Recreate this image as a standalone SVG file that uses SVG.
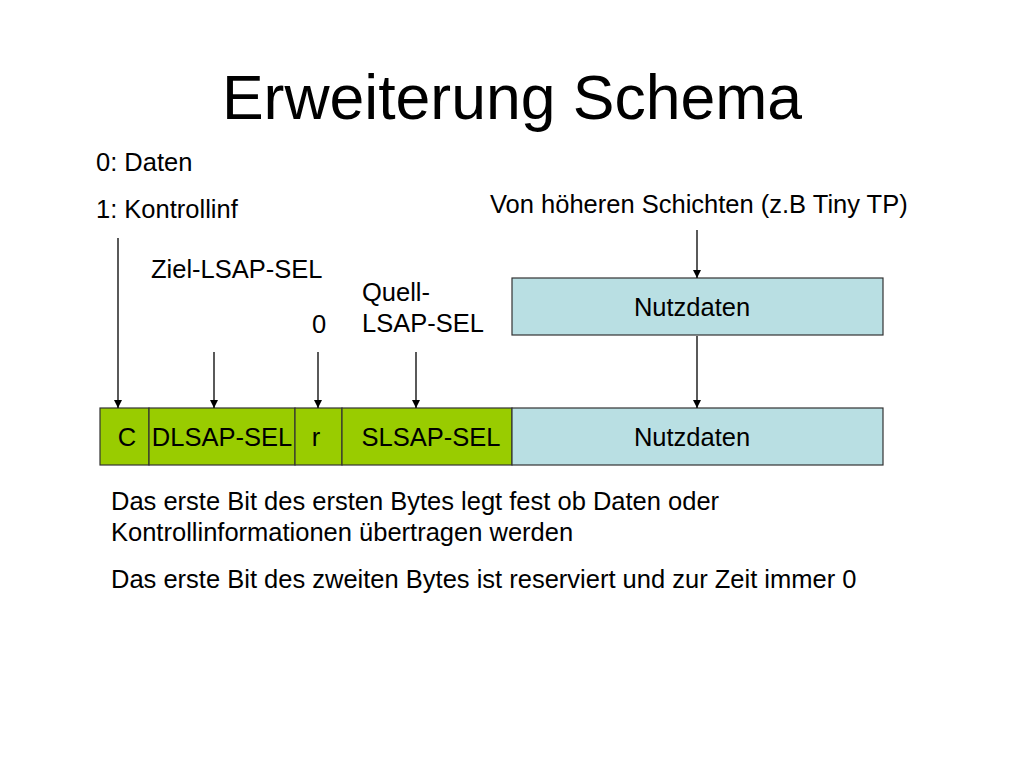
<svg xmlns="http://www.w3.org/2000/svg" width="1024" height="768" viewBox="0 0 1024 768">
<defs>
<style>
text{font-family:"Liberation Sans",Arial,sans-serif;fill:#000}
.t{font-size:25.5px}
.g{fill:#99cc00;stroke:#333;stroke-width:1.2}
.b{fill:#b9dfe3;stroke:#333;stroke-width:1.2}
.c{stroke:#000;stroke-width:1.3;fill:none;marker-end:url(#ah)}
</style>
<marker id="ah" viewBox="0 0 10 10" refX="10" refY="5" markerWidth="8" markerHeight="8" markerUnits="userSpaceOnUse" orient="auto">
<path d="M0,0 L10,5 L0,10 z" fill="#000"/>
</marker>
</defs>
<rect width="1024" height="768" fill="#fff"/>
<text x="512" y="119" font-size="62.5" text-anchor="middle">Erweiterung Schema</text>
<text class="t" x="96" y="171">0: Daten</text>
<text class="t" x="96" y="218">1: Kontrollinf</text>
<text class="t" x="151" y="278">Ziel-LSAP-SEL</text>
<text class="t" x="362" y="301">Quell-</text>
<text class="t" x="362" y="332">LSAP-SEL</text>
<text class="t" x="312" y="333">0</text>
<text class="t" x="490" y="213">Von höheren Schichten (z.B Tiny TP)</text>
<g id="nutzdaten-top">
<rect class="b" x="512" y="278" width="371" height="57"/>
<text class="t" x="692" y="316" text-anchor="middle">Nutzdaten</text>
</g>
<g id="c">
<rect class="g" x="100" y="408" width="49" height="57"/>
<text class="t" x="127" y="446" text-anchor="middle">C</text>
</g>
<g id="dlsap">
<rect class="g" x="149" y="408" width="146" height="57"/>
<text class="t" x="222" y="446" text-anchor="middle">DLSAP-SEL</text>
</g>
<g id="r">
<rect class="g" x="295" y="408" width="47" height="57"/>
<text class="t" x="316" y="446" text-anchor="middle">r</text>
</g>
<g id="slsap">
<rect class="g" x="342" y="408" width="170" height="57"/>
<text class="t" x="431" y="446" text-anchor="middle">SLSAP-SEL</text>
</g>
<g id="nutzdaten-bottom">
<rect class="b" x="512" y="408" width="371" height="57"/>
<text class="t" x="692" y="446" text-anchor="middle">Nutzdaten</text>
</g>
<g id="connectors">
<line class="c" x1="118" y1="238" x2="118" y2="408"/>
<line class="c" x1="214" y1="352" x2="214" y2="408"/>
<line class="c" x1="318" y1="352" x2="318" y2="408"/>
<line class="c" x1="416" y1="352" x2="416" y2="408"/>
<line class="c" x1="697" y1="230" x2="697" y2="278"/>
<line class="c" x1="697" y1="336" x2="697" y2="408"/>
</g>
<text class="t" x="111" y="510">Das erste Bit des ersten Bytes legt fest ob Daten oder</text>
<text class="t" x="111" y="541">Kontrollinformationen übertragen werden</text>
<text class="t" x="111" y="588">Das erste Bit des zweiten Bytes ist reserviert und zur Zeit immer 0</text>
</svg>
